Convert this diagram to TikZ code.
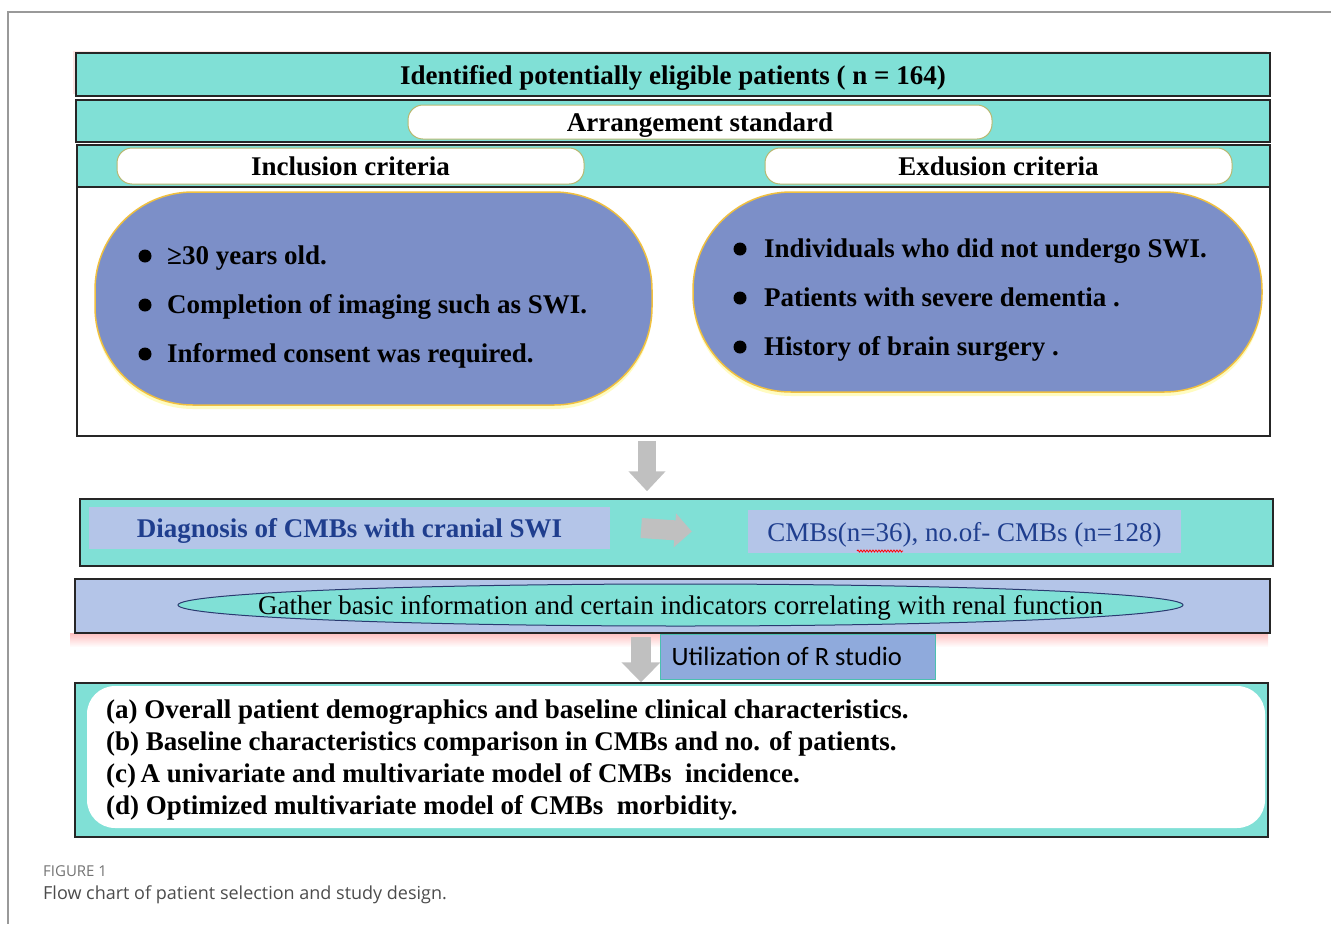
\documentclass[tikz,border=0pt]{standalone}
\usepackage{fontspec}
\setmainfont{Liberation Serif}
\newfontfamily\calib{Carlito}
\newfontfamily\capfont{Open Sans}
\usetikzlibrary{arrows.meta,shadows,decorations.pathmorphing,calc,shapes.geometric}
\definecolor{tealbg}{HTML}{80E0D6}
\definecolor{blobc}{HTML}{7C8FC8}
\definecolor{lav}{HTML}{B4C5E8}
\definecolor{rboxc}{HTML}{8FAADC}
\definecolor{rboxl}{HTML}{4BC0B0}
\definecolor{garr}{HTML}{C0C0C0}
\definecolor{pillln}{HTML}{B8B870}
\definecolor{blobln}{HTML}{F0C040}
\definecolor{dblue}{HTML}{1F3E8E}
\definecolor{navyl}{HTML}{2A3A70}
\newcommand\fntB{\fontsize{27}{32}\selectfont\bfseries}
\newcommand\fntR{\fontsize{27}{32}\selectfont}
\begin{document}
\begin{tikzpicture}[x=1pt,y=-1pt,
  bar/.style={draw=black!85, line width=1.5pt, fill=tealbg, inner sep=0pt, text depth=0pt},
  pill/.style={draw=pillln, fill=white, rounded corners=15pt, line width=1pt, inner sep=0pt, font=\fntB, text depth=0pt},
  blob/.style={draw=blobln, fill=blobc, line width=1.5pt, rounded corners=98pt, inner sep=0pt,
    general shadow={fill=yellow!40, shadow yshift=-4pt, opacity=0.6}},
  btxt/.style={anchor=base west, inner sep=0pt, font=\fntB},
  rtxt/.style={anchor=base west, inner sep=0pt, font=\fntB},
  garrow/.style={draw=garr, line width=18pt, -{Triangle[length=20pt,width=36pt]}},
  lbox/.style={fill=lav, inner sep=0pt, text depth=0pt}
]
\useasboundingbox (0,0) rectangle (1331,924);
% frame
\draw[black!40, line width=1.2pt] (1331,12) -- (8,12) -- (8,924);

% title
\node[bar, minimum width=1194pt, minimum height=43pt, font=\fntB,
  general shadow={fill=red!20, shadow xshift=-3pt, shadow yshift=2pt, opacity=0.5}] (title) at (673,74.5)
  {Identified potentially eligible patients ( n = 164)};

% arrangement
\node[bar, minimum width=1194pt, minimum height=42pt] (arrbar) at (673,121) {};
\node[pill, minimum width=584pt, minimum height=34pt] (arr) at (700,122) {Arrangement standard};

% criteria box
\node[draw=black!85, line width=1.5pt, fill=white, minimum width=1193pt, minimum height=249pt] (crit) at (673.5,311.5) {};
\node[bar, line width=2pt, minimum width=1193pt, minimum height=42pt] (critbar) at (673.5,166) {};
\node[pill, minimum width=467pt, minimum height=36pt] (inc) at (350.5,166) {Inclusion criteria};
\node[pill, minimum width=467pt, minimum height=36pt] (exc) at (998.5,166) {Exdusion criteria};

% blobs
\node[blob, minimum width=557pt, minimum height=213pt] (incl) at (373.5,298.5) {};
\node[blob, minimum width=569pt, minimum height=200pt] (excl) at (977.5,292) {};

\fill (145,256) circle (6.5);
\fill (145,305) circle (6.5);
\fill (145,354) circle (6.5);
\node[btxt] (i1) at (167,264) {≥30 years old.};
\node[btxt] (i2) at (167,313) {Completion of imaging such as SWI.};
\node[btxt] (i3) at (167,362) {Informed consent was required.};

\fill (740,249) circle (6.5);
\fill (740,298) circle (6.5);
\fill (740,347) circle (6.5);
\node[btxt] (e1) at (764,257) {Individuals who did not undergo SWI.};
\node[btxt] (e2) at (764,306) {Patients with severe dementia .};
\node[btxt] (e3) at (764,355) {History of brain surgery .};

% diagnosis
\node[bar, minimum width=1193pt, minimum height=67pt] (diag) at (676.5,532.5) {};
\node[lbox, minimum width=521pt, minimum height=42pt, font=\fntB, text=dblue] (diagL) at (349.5,528) {Diagnosis of CMBs with cranial SWI};
\node[lbox, minimum width=433pt, minimum height=43pt, font=\fntR, text=dblue] (diagR) at (964.5,531.5) {CMBs(n=36), no.of- CMBs (n=128)};
\draw[red, line width=0.8pt, decorate, decoration={snake, amplitude=1pt, segment length=3pt}] (857,551) -- (903,551);

\draw[garrow] ([xshift=-26.5pt,yshift=-4pt]crit.south) -- ([xshift=-29.5pt,yshift=7pt]diag.north);
\draw[garrow, line width=20pt, -{Triangle[length=17pt,width=33pt]}] ([xshift=31pt]diagL.east) -- ([xshift=-56pt]diagR.west);

% gather
\shade[top color=red!25, bottom color=white] (70,633) rectangle (1268,647);
\node[bar, fill=lav, minimum width=1195pt, minimum height=54pt] (gbar) at (672.5,606) {};
\node[ellipse, draw=navyl, line width=1pt, fill=tealbg, minimum width=1005pt, minimum height=42pt, inner sep=0pt] (gell) at (680.5,605) {};
\node[inner sep=0pt, font=\fntR, text depth=0pt] (gtxt) at (gell.center) {Gather basic information and certain indicators correlating with renal function};

% results
\node[bar, minimum width=1193pt, minimum height=154pt] (res) at (671.5,760) {};
\node[fill=white, rounded corners=28pt, minimum width=1178pt, minimum height=142pt, inner sep=0pt] (resin) at (676,757) {};
\draw[garrow, line width=20pt, -{Triangle[length=20pt,width=38pt]}] ([xshift=-31.5pt,yshift=-3pt]gbar.south) -- ([xshift=-30.5pt]res.north);
\node[fill=rboxc, draw=rboxl, line width=1pt, minimum width=275pt, minimum height=45pt, inner sep=0pt] (rbox) at (797.5,656.5) {};
\node[anchor=west, inner sep=0pt, font=\calib\fontsize{26.5}{30}\selectfont] (rtext) at ([xshift=12pt]rbox.west) {Utilization of R studio};

\node[rtxt] (ra) at (106,718) {(a)\ Overall patient demographics and baseline clinical characteristics.};
\node[rtxt] (rb) at (106,750) {(b) Baseline characteristics comparison in CMBs and no. of patients.};
\node[rtxt] (rc) at (106,782) {(c)\,A univariate and multivariate model of CMBs\ \ incidence.};
\node[rtxt] (rd) at (106,814) {(d) Optimized multivariate model of CMBs\ \ morbidity.};

% caption
\node[anchor=base west, inner sep=0pt, font=\capfont\fontsize{15}{17}\selectfont, text=black!55] (fig) at (43,876) {FIGURE 1};
\node[anchor=base west, inner sep=0pt, font=\capfont\fontsize{18}{22}\selectfont, text=black!70] (cap) at (43,899) {Flow chart of patient selection and study design.};
\end{tikzpicture}
\end{document}
